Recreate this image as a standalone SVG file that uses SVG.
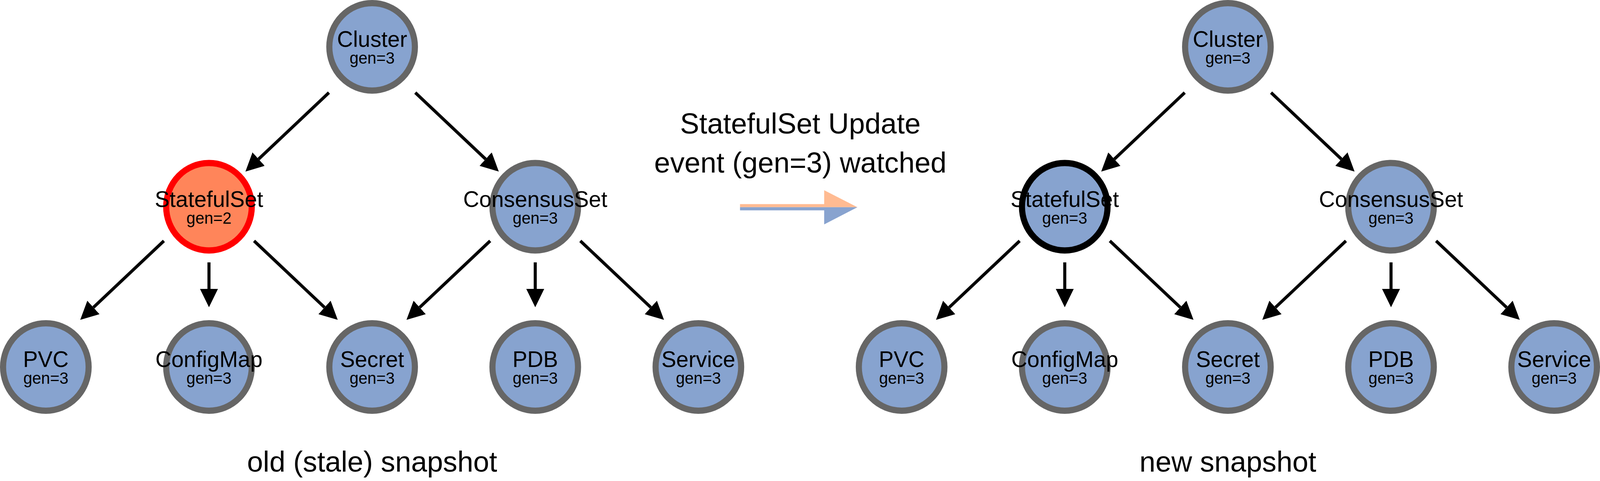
<svg xmlns="http://www.w3.org/2000/svg" width="4188" height="1232" viewBox="0 0 4188 1232">
  <defs>
    <style>
      .node { fill: #87A3CF; stroke: #666666; stroke-width: 16; }
      .stale { fill: #FF855A; stroke: #FF0000; stroke-width: 16; }
      .fresh { fill: #87A3CF; stroke: #000000; stroke-width: 16; }
      .name { font-family: "Liberation Sans", Arial, Helvetica, sans-serif; font-size: 58px; fill: #000; text-anchor: middle; }
      .gen { font-family: "Liberation Sans", Arial, Helvetica, sans-serif; font-size: 42px; fill: #000; text-anchor: middle; }
      .caption { font-family: "Liberation Sans", Arial, Helvetica, sans-serif; font-size: 75px; fill: #000; text-anchor: middle; }
      .edge { stroke: #000; stroke-width: 8; fill: none; marker-end: url(#head); }
    </style>
    <marker id="head" markerUnits="userSpaceOnUse" markerWidth="50" markerHeight="50" viewBox="0 -25 50 50" refX="0" refY="0" orient="auto">
      <path d="M0,-23.5 L47,0 L0,23.5 Z" fill="#000"/>
    </marker>
  </defs>
  <rect width="4188" height="1232" fill="#FFFFFF"/>

  <g id="diagram" transform="scale(0.978032 1)">
  <g id="connectors">
    <g id="old-edges">
      <line class="edge" x1="861" y1="237.3" x2="676.9" y2="407.5"/>
      <line class="edge" x1="1087" y1="237.3" x2="1271.1" y2="407.5"/>
      <line class="edge" x1="429" y1="617" x2="244.5" y2="787.4"/>
      <line class="edge" x1="547" y1="672" x2="547" y2="740"/>
      <line class="edge" x1="665" y1="617" x2="849.5" y2="787.4"/>
      <line class="edge" x1="1283" y1="617" x2="1098.5" y2="787.4"/>
      <line class="edge" x1="1401" y1="672" x2="1401" y2="740"/>
      <line class="edge" x1="1519" y1="617" x2="1703.5" y2="787.4"/>
    </g>
    <g id="new-edges">
      <line class="edge" x1="3101" y1="237.3" x2="2916.9" y2="407.5"/>
      <line class="edge" x1="3327" y1="237.3" x2="3511.1" y2="407.5"/>
      <line class="edge" x1="2669" y1="617" x2="2484.5" y2="787.4"/>
      <line class="edge" x1="2787" y1="672" x2="2787" y2="740"/>
      <line class="edge" x1="2905" y1="617" x2="3089.5" y2="787.4"/>
      <line class="edge" x1="3523" y1="617" x2="3338.5" y2="787.4"/>
      <line class="edge" x1="3641" y1="672" x2="3641" y2="740"/>
      <line class="edge" x1="3759" y1="617" x2="3943.5" y2="787.4"/>
    </g>
    <g id="transition-arrow">
      <path d="M1937,522.7 H2157.3 V487.3 L2244.3,530.7 H1937 Z" fill="#FFBB92"/>
      <path d="M1937,530.7 H2244.3 L2157.3,574.7 V538.7 H1937 Z" fill="#88A3CF"/>
    </g>
  </g>

  <g id="old-cluster"><circle class="node" cx="974" cy="120" r="112"/><text class="name" x="974" y="120">Cluster</text><text class="gen" x="974" y="163">gen=3</text></g>
  <g id="old-statefulset"><circle class="stale" cx="547" cy="529.5" r="112"/><text class="name" x="547" y="530">StatefulSet</text><text class="gen" x="547" y="573">gen=2</text></g>
  <g id="old-consensusset"><circle class="node" cx="1401" cy="529.5" r="112"/><text class="name" x="1401" y="530">ConsensusSet</text><text class="gen" x="1401" y="573">gen=3</text></g>
  <g id="old-pvc"><circle class="node" cx="120" cy="940" r="112"/><text class="name" x="120" y="940">PVC</text><text class="gen" x="120" y="983">gen=3</text></g>
  <g id="old-configmap"><circle class="node" cx="547" cy="940" r="112"/><text class="name" x="547" y="940">ConfigMap</text><text class="gen" x="547" y="983">gen=3</text></g>
  <g id="old-secret"><circle class="node" cx="974" cy="940" r="112"/><text class="name" x="974" y="940">Secret</text><text class="gen" x="974" y="983">gen=3</text></g>
  <g id="old-pdb"><circle class="node" cx="1401" cy="940" r="112"/><text class="name" x="1401" y="940">PDB</text><text class="gen" x="1401" y="983">gen=3</text></g>
  <g id="old-service"><circle class="node" cx="1828" cy="940" r="112"/><text class="name" x="1828" y="940">Service</text><text class="gen" x="1828" y="983">gen=3</text></g>

  <g id="new-cluster"><circle class="node" cx="3214" cy="120" r="112"/><text class="name" x="3214" y="120">Cluster</text><text class="gen" x="3214" y="163">gen=3</text></g>
  <g id="new-statefulset"><circle class="fresh" cx="2787" cy="529.5" r="112"/><text class="name" x="2787" y="530">StatefulSet</text><text class="gen" x="2787" y="573">gen=3</text></g>
  <g id="new-consensusset"><circle class="node" cx="3641" cy="529.5" r="112"/><text class="name" x="3641" y="530">ConsensusSet</text><text class="gen" x="3641" y="573">gen=3</text></g>
  <g id="new-pvc"><circle class="node" cx="2360" cy="940" r="112"/><text class="name" x="2360" y="940">PVC</text><text class="gen" x="2360" y="983">gen=3</text></g>
  <g id="new-configmap"><circle class="node" cx="2787" cy="940" r="112"/><text class="name" x="2787" y="940">ConfigMap</text><text class="gen" x="2787" y="983">gen=3</text></g>
  <g id="new-secret"><circle class="node" cx="3214" cy="940" r="112"/><text class="name" x="3214" y="940">Secret</text><text class="gen" x="3214" y="983">gen=3</text></g>
  <g id="new-pdb"><circle class="node" cx="3641" cy="940" r="112"/><text class="name" x="3641" y="940">PDB</text><text class="gen" x="3641" y="983">gen=3</text></g>
  <g id="new-service"><circle class="node" cx="4068" cy="940" r="112"/><text class="name" x="4068" y="940">Service</text><text class="gen" x="4068" y="983">gen=3</text></g>

  <g id="captions">
    <text class="caption" x="2095" y="342">StatefulSet Update</text>
    <text class="caption" x="2095" y="442">event (gen=3) watched</text>
    <text class="caption" x="974" y="1208">old (stale) snapshot</text>
    <text class="caption" x="3214" y="1208">new snapshot</text>
  </g>
  </g>
</svg>
